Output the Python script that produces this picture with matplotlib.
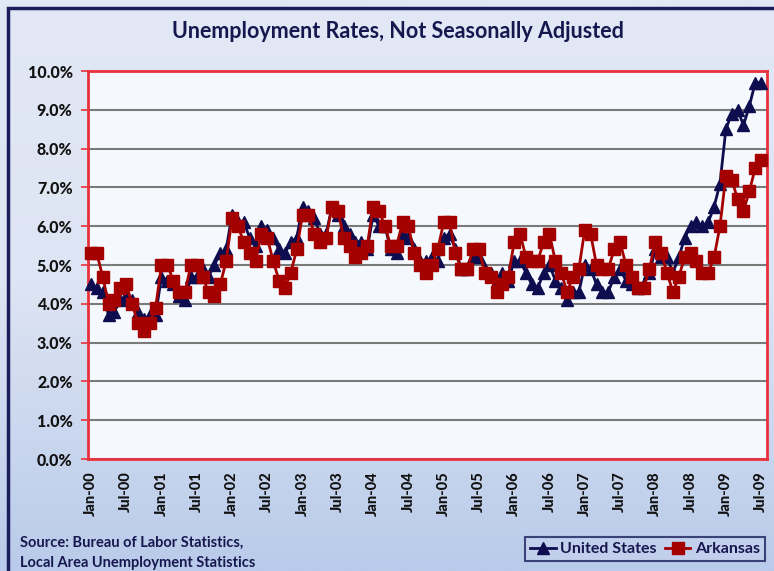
import numpy as np
import matplotlib.pyplot as plt
from matplotlib.patches import Rectangle
from matplotlib.colors import LinearSegmentedColormap
from matplotlib.ticker import FuncFormatter

plt.rcParams['font.family'] = ['Lato', 'DejaVu Sans']

# monthly rates (%), Jan 2000 .. Jul 2009
us_rate = [
    4.5, 4.4, 4.3, 3.7, 3.8, 4.1, 4.2, 4.1, 3.8, 3.6, 3.7, 3.7,
    4.7, 4.6, 4.5, 4.2, 4.1, 4.7, 4.7, 4.9, 4.7, 5.0, 5.3, 5.4,
    6.3, 6.1, 6.1, 5.7, 5.5, 6.0, 5.9, 5.7, 5.4, 5.3, 5.6, 5.7,
    6.5, 6.4, 6.2, 5.8, 5.8, 6.5, 6.3, 6.0, 5.8, 5.6, 5.6, 5.4,
    6.3, 6.0, 6.0, 5.4, 5.3, 5.8, 5.7, 5.4, 5.1, 5.1, 5.2, 5.1,
    5.7, 5.8, 5.4, 4.9, 4.9, 5.2, 5.2, 4.9, 4.8, 4.6, 4.8, 4.6,
    5.1, 5.1, 4.8, 4.5, 4.4, 4.8, 5.0, 4.6, 4.4, 4.1, 4.3, 4.3,
    5.0, 4.9, 4.5, 4.3, 4.3, 4.7, 4.9, 4.6, 4.5, 4.4, 4.5, 4.8,
    5.4, 5.2, 5.2, 4.8, 5.2, 5.7, 6.0, 6.1, 6.0, 6.1, 6.5, 7.1,
    8.5, 8.9, 9.0, 8.6, 9.1, 9.7, 9.7,
]
ark_rate = [
    5.3, 5.3, 4.7, 4.0, 4.1, 4.4, 4.5, 4.0, 3.5, 3.3, 3.5, 3.9,
    5.0, 5.0, 4.6, 4.3, 4.3, 5.0, 5.0, 4.7, 4.3, 4.2, 4.5, 5.1,
    6.2, 6.0, 5.6, 5.3, 5.1, 5.8, 5.7, 5.1, 4.6, 4.4, 4.8, 5.4,
    6.3, 6.3, 5.8, 5.6, 5.7, 6.5, 6.4, 5.7, 5.5, 5.2, 5.3, 5.5,
    6.5, 6.4, 6.0, 5.5, 5.5, 6.1, 6.0, 5.3, 5.0, 4.8, 5.0, 5.4,
    6.1, 6.1, 5.3, 4.9, 4.9, 5.4, 5.4, 4.8, 4.7, 4.3, 4.5, 4.7,
    5.6, 5.8, 5.2, 5.1, 5.1, 5.6, 5.8, 5.1, 4.8, 4.3, 4.7, 4.9,
    5.9, 5.8, 5.0, 4.9, 4.9, 5.4, 5.6, 5.0, 4.7, 4.4, 4.4, 4.9,
    5.6, 5.3, 4.8, 4.3, 4.7, 5.2, 5.3, 5.1, 4.8, 4.8, 5.2, 6.0,
    7.3, 7.2, 6.7, 6.4, 6.9, 7.5, 7.7,
]
years = ['00', '01', '02', '03', '04', '05', '06', '07', '08', '09']
tick_labels = []
for yy in years:
    tick_labels += ['Jan-' + yy, 'Jul-' + yy]

navy = '#0d0d4f'
red = '#a40000'
text_col = '#17174f'

fig = plt.figure(figsize=(7.74, 5.71), dpi=100)

# background gradient with frame
bg = fig.add_axes([0, 0, 1, 1], zorder=-10)
grad = np.linspace(0, 1, 256).reshape(-1, 1)
cmap = LinearSegmentedColormap.from_list('bg', ['#e2e8f5', '#dde4f3', '#b9cbea'])
bg.imshow(grad, aspect='auto', cmap=cmap, extent=[0, 1, 0, 1], origin='upper')
bg.add_patch(Rectangle((8 / 774, -0.05), 1.1, 1.05 - 8 / 571,
                       fill=False, edgecolor='#1a1f5c', linewidth=2.5,
                       transform=bg.transAxes))
bg.set_xlim(0, 1)
bg.set_ylim(0, 1)
bg.axis('off')

ax = fig.add_axes([88 / 774, 112 / 571, 679 / 774, 388 / 571])
ax.set_facecolor('#f5f8fc')

x = np.arange(len(us_rate))
us = np.array(us_rate) / 100
ark = np.array(ark_rate) / 100

ax.plot(x, us, color=navy, linewidth=2, marker='^', markersize=9,
        label='United States', clip_on=False, zorder=3)
ax.plot(x[:len(ark)], ark, color=red, linewidth=2, marker='s', markersize=9,
        label='Arkansas', clip_on=False, zorder=4)

ax.set_xlim(-0.5, 115)
ax.set_ylim(0, 0.10)
ax.set_yticks(np.arange(0, 0.101, 0.01))
ax.yaxis.set_major_formatter(FuncFormatter(lambda v, p: f'{v * 100:.1f}%'))
ax.grid(axis='y', color='#7a7a7a', linewidth=1.5)
ax.set_axisbelow(True)

ax.set_xticks(np.arange(0, 115, 6))
ax.set_xticklabels(tick_labels, rotation=90, fontweight='black', fontsize=10.5,
                   color='#111111')
for lab in ax.get_yticklabels():
    lab.set_fontweight('black')
    lab.set_fontsize(11.5)
    lab.set_color('#111111')
ax.tick_params(axis='y', length=5, color='#e8323c', width=1.2, pad=6)
ax.tick_params(axis='x', length=0, pad=9)

for s in ax.spines.values():
    s.set_color('#e8323c')
    s.set_linewidth(2)

fig.text(398 / 774, 1 - 32 / 571, 'Unemployment Rates, Not Seasonally Adjusted',
         ha='center', va='center', fontsize=15.5, fontweight='bold', color=text_col)

fig.text(20 / 774, 1 - 543 / 571, 'Source: Bureau of Labor Statistics,',
         ha='left', va='center', fontsize=10.5, fontweight='bold', color=text_col)
fig.text(20 / 774, 1 - 563 / 571, 'Local Area Unemployment Statistics',
         ha='left', va='center', fontsize=10.5, fontweight='bold', color=text_col)

leg = fig.legend(loc='center right', bbox_to_anchor=(773 / 774, 1 - 549 / 571),
                 ncol=2, frameon=True, fancybox=False, edgecolor='#1a1f5c',
                 prop={'weight': 'bold', 'size': 11.5}, handlelength=1.6,
                 handletextpad=0.3, columnspacing=0.5, borderpad=0.3,
                 markerscale=0.9)
leg.get_frame().set_facecolor('#c3d1ed')
leg.get_frame().set_linewidth(1.5)
for t in leg.get_texts():
    t.set_color(text_col)

fig.savefig('out.png', dpi=100)
